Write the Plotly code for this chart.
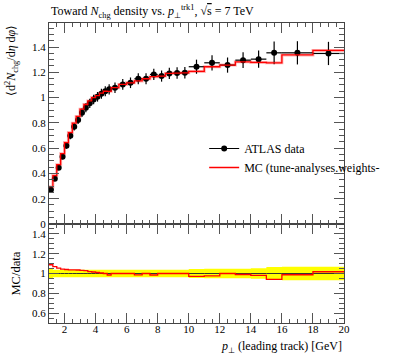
import plotly.graph_objects as go

# ---- data ----
bin_edges = [1.0, 1.25, 1.5, 1.75, 2.0, 2.25, 2.5, 2.75, 3.0, 3.25, 3.5, 3.75, 4.0,
             4.25, 4.5, 4.75, 5.0, 5.5, 6.0, 6.5, 7.0, 7.5, 8.0, 8.5, 9.0, 9.5, 10.0,
             11.0, 12.0, 13.0, 14.0, 15.0, 16.0, 18.0, 20.0]
data_vals = [0.271, 0.358, 0.445, 0.532, 0.619, 0.697, 0.769, 0.822, 0.880, 0.919,
             0.954, 0.985, 1.006, 1.030, 1.050, 1.065, 1.078, 1.104, 1.117, 1.149,
             1.149, 1.183, 1.170, 1.191, 1.194, 1.196, 1.244, 1.275, 1.257, 1.296,
             1.304, 1.354, 1.354, 1.349]
data_errs = [0.014, 0.014, 0.017, 0.020, 0.024, 0.027, 0.029, 0.031, 0.033, 0.035,
             0.036, 0.037, 0.038, 0.039, 0.040, 0.040, 0.041, 0.042, 0.042, 0.044,
             0.044, 0.045, 0.044, 0.045, 0.046, 0.046, 0.056, 0.060, 0.060, 0.062,
             0.068, 0.090, 0.092, 0.092]
mc_vals = [0.295, 0.383, 0.469, 0.556, 0.644, 0.723, 0.797, 0.851, 0.908, 0.945,
           0.973, 1.000, 1.016, 1.035, 1.050, 1.049, 1.078, 1.104, 1.117, 1.132,
           1.149, 1.165, 1.170, 1.191, 1.194, 1.196, 1.207, 1.244, 1.257, 1.283,
           1.278, 1.275, 1.337, 1.373]

x_ticks = [2, 4, 6, 8, 10, 12, 14, 16, 18, 20]

# ---- derived ----
centers = [(a + b) / 2 for a, b in zip(bin_edges[:-1], bin_edges[1:])]
halfw = [(b - a) / 2 for a, b in zip(bin_edges[:-1], bin_edges[1:])]
ratio = [m / d for m, d in zip(mc_vals, data_vals)]
rel = [e / d for e, d in zip(data_errs, data_vals)]

def step(vals):
    return list(vals) + [vals[-1]]

FONT = "Liberation Serif"
fig = go.Figure()

# main panel: MC halo
fig.add_trace(go.Scatter(x=bin_edges, y=step(mc_vals), mode="lines", line_shape="hv",
                         line=dict(color="rgba(255,0,0,0.3)", width=3),
                         showlegend=False, hoverinfo="skip", xaxis="x", yaxis="y"))
# data
fig.add_trace(go.Scatter(x=centers, y=data_vals, mode="markers",
                         marker=dict(color="black", size=6),
                         error_y=dict(type="data", array=data_errs, color="black", thickness=1.2, width=0),
                         error_x=dict(type="data", array=halfw, color="black", thickness=1.2, width=0),
                         showlegend=False, xaxis="x", yaxis="y"))
# MC
fig.add_trace(go.Scatter(x=bin_edges, y=step(mc_vals), mode="lines", line_shape="hv",
                         line=dict(color="#ff0000", width=1.3),
                         showlegend=False, xaxis="x", yaxis="y"))
# legend entries
fig.add_trace(go.Scatter(x=[None], y=[None], mode="lines+markers",
                         marker=dict(color="black", size=6), line=dict(color="black", width=1.2),
                         name="ATLAS data", xaxis="x", yaxis="y", legendrank=1))
fig.add_trace(go.Scatter(x=[None], y=[None], mode="lines",
                         line=dict(color="#ff0000", width=1.3),
                         name="MC (tune-analyses.weights-", xaxis="x", yaxis="y", legendrank=2))

# ratio panel
lo = [1 - r for r in rel]
hi = [1 + r for r in rel]
fig.add_trace(go.Scatter(x=bin_edges, y=step(lo), mode="lines", line_shape="hv",
                         line=dict(color="rgba(0,0,0,0)", width=0), showlegend=False,
                         hoverinfo="skip", xaxis="x2", yaxis="y2"))
fig.add_trace(go.Scatter(x=bin_edges, y=step(hi), mode="lines", line_shape="hv",
                         line=dict(color="rgba(0,0,0,0)", width=0), fill="tonexty",
                         fillcolor="#ffff00", showlegend=False, hoverinfo="skip",
                         xaxis="x2", yaxis="y2"))
fig.add_trace(go.Scatter(x=bin_edges, y=step([1.0] * len(data_vals)), mode="lines", line_shape="hv",
                         line=dict(color="#333333", width=1), showlegend=False,
                         hoverinfo="skip", xaxis="x2", yaxis="y2"))
fig.add_trace(go.Scatter(x=bin_edges, y=step(ratio), mode="lines", line_shape="hv",
                         line=dict(color="#ff0000", width=1.3), showlegend=False,
                         hoverinfo="skip", xaxis="x2", yaxis="y2"))

axcommon = dict(showline=True, linecolor="#444444", linewidth=1, mirror="allticks",
                ticks="inside", tickcolor="#555555", showgrid=False, zeroline=False,
                tickfont=dict(family=FONT, size=11, color="black"))

fig.update_layout(
    width=397, height=358,
    margin=dict(l=49, r=13, t=23, b=35),
    plot_bgcolor="white", paper_bgcolor="white",
    font=dict(family=FONT, size=11, color="black"),
    xaxis=dict(range=[1, 20], domain=[0, 1], anchor="y", showticklabels=False,
               tickvals=x_ticks, ticklen=10,
               minor=dict(dtick=0.5, tick0=0, ticklen=4, ticks="inside", tickcolor="#555555"),
               **axcommon),
    yaxis=dict(range=[-0.0005, 1.59], domain=[0.33, 1], anchor="x", tick0=0, dtick=0.2, ticklen=10,
               minor=dict(dtick=0.05, tick0=0, ticklen=5, ticks="inside", tickcolor="#555555"),
               **axcommon),
    xaxis2=dict(range=[1, 20], domain=[0, 1], anchor="y2", tickvals=x_ticks, ticklen=10,
                ticklabelstandoff=-4,
                minor=dict(dtick=0.5, tick0=0, ticklen=4, ticks="inside", tickcolor="#555555"),
                **axcommon),
    yaxis2=dict(range=[0.5, 1.5], domain=[0, 0.33], anchor="x2", tick0=0, dtick=0.2, ticklen=10,
                minor=dict(dtick=0.05, tick0=0, ticklen=5, ticks="inside", tickcolor="#555555"),
                **axcommon),
    legend=dict(x=0.526, y=0.63, xanchor="left", yanchor="top", bgcolor="rgba(0,0,0,0)",
                font=dict(family=FONT, size=12), itemwidth=30, tracegroupgap=0,
                traceorder="normal"),
    showlegend=True,
)

fig.add_annotation(text="Toward <i>N</i><sub>chg</sub> density vs. <i>p</i><sub>⊥</sub><sup>trk1</sup>, √<span style=\"text-decoration:overline\">s</span> = 7 TeV",
                   xref="paper", yref="paper", x=0, y=1, xanchor="left", yanchor="bottom",
                   yshift=1, showarrow=False, font=dict(family=FONT, size=12))
fig.add_annotation(text="⟨d<sup>2</sup><i>N</i><sub>chg</sub>/d<i>η</i> d<i>φ</i>⟩",
                   xref="paper", yref="paper", x=0, y=1, xanchor="left", yanchor="top",
                   xshift=-48, textangle=-90, showarrow=False, font=dict(family=FONT, size=12))
fig.add_annotation(text="MC/data", xref="paper", yref="paper", x=0, y=0.165,
                   xanchor="left", yanchor="middle", xshift=-43, textangle=-90,
                   showarrow=False, font=dict(family=FONT, size=12.5))
fig.add_annotation(text="<i>p</i><sub>⊥</sub> (leading track) [GeV]", xref="paper", yref="paper",
                   x=1, y=0, xanchor="right", yanchor="top", yshift=-14, showarrow=False,
                   font=dict(family=FONT, size=12))

fig.write_html("out.html", config={"displayModeBar": False},
               post_script="document.body.style.margin='0';")
